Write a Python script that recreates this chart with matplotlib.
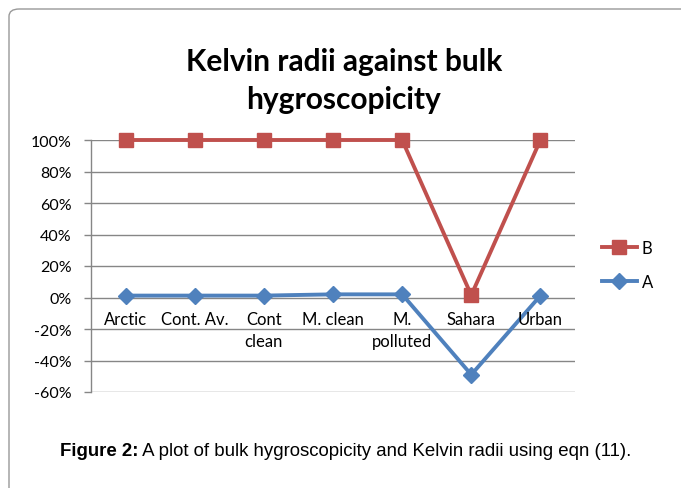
import matplotlib
matplotlib.use('Agg')
import matplotlib.pyplot as plt
from matplotlib.patches import FancyBboxPatch
from matplotlib.ticker import PercentFormatter

plt.rcParams['axes.unicode_minus'] = False

# data
categories = ['Arctic', 'Cont. Av.', 'Cont\nclean', 'M. clean', 'M.\npolluted', 'Sahara', 'Urban']
series_b = [1.00, 1.00, 1.00, 1.00, 1.00, 0.015, 1.00]
series_a = [0.012, 0.012, 0.012, 0.02, 0.02, -0.49, 0.012]
yticks = [-0.6, -0.4, -0.2, 0.0, 0.2, 0.4, 0.6, 0.8, 1.0]

red = '#C0504D'
blue = '#4F81BD'
grid_c = '#868686'
font = 'Lato'

fig = plt.figure(figsize=(6.81, 4.89), dpi=100)

# rounded frame around the chart (only top and left visible)
frame = FancyBboxPatch((9 / 681, -0.2), 1.2, 1.2 - 10 / 489,
                       boxstyle='round,pad=0,rounding_size=0.015',
                       transform=fig.transFigure, fill=False,
                       edgecolor='#999999', linewidth=1.0)
fig.patches.append(frame)

ax = fig.add_axes([91 / 681, 1 - 393 / 489, (575 - 91) / 681, (393 - 141) / 489])

x = list(range(len(categories)))
la, = ax.plot(x, series_a, color=blue, lw=2.8, marker='D', ms=8.5,
              markeredgecolor=blue, label='A', zorder=3, clip_on=False)
lb, = ax.plot(x, series_b, color=red, lw=2.8, marker='s', ms=10.5,
              markeredgecolor=red, label='B', zorder=4, clip_on=False)

ax.set_xlim(-0.5, len(categories) - 0.5)
ax.set_ylim(-0.6, 1.0)
ax.set_yticks(yticks)
ax.yaxis.set_major_formatter(PercentFormatter(1.0, decimals=0))
ax.set_xticks([])
for yv in yticks:
    ax.axhline(yv, color=grid_c, lw=1.0, zorder=1)

for s in ['top', 'right', 'bottom']:
    ax.spines[s].set_visible(False)
ax.spines['left'].set_color(grid_c)
ax.spines['left'].set_linewidth(1.0)
ax.tick_params(axis='y', length=5, color=grid_c, width=1.0, pad=9,
               labelsize=11.5)
for t in ax.get_yticklabels():
    t.set_fontfamily(font)

# category labels sit just under the 0% line
for i, c in enumerate(categories):
    ax.annotate(c, (i, 0), xytext=(0, -10), textcoords='offset points',
                ha='center', va='top', fontsize=12, family=font,
                linespacing=1.4)

ax.legend(handles=[lb, la], loc='center left', bbox_to_anchor=(1.024, 0.505),
          frameon=False, handlelength=2.1, labelspacing=1.1,
          handletextpad=0.3, prop={'family': font, 'size': 12})

fig.text(0.505, 1 - 62 / 489, 'Kelvin radii against bulk', ha='center',
         va='center', fontsize=21.5, fontweight='bold', family=font)
fig.text(0.505, 1 - 100 / 489, 'hygroscopicity', ha='center', va='center',
         fontsize=21.5, fontweight='bold', family=font)

t1 = fig.text(60 / 681, 1 - 452 / 489, 'Figure 2:', ha='left', va='center',
              fontsize=13.4, fontweight='bold', family='Liberation Sans')
ax.annotate(' A plot of bulk hygroscopicity and Kelvin radii using eqn (11).',
            xy=(1, 0.5), xycoords=t1, ha='left', va='center', fontsize=13.4,
            family='Liberation Sans', annotation_clip=False)

fig.savefig('out.png', dpi=100)
